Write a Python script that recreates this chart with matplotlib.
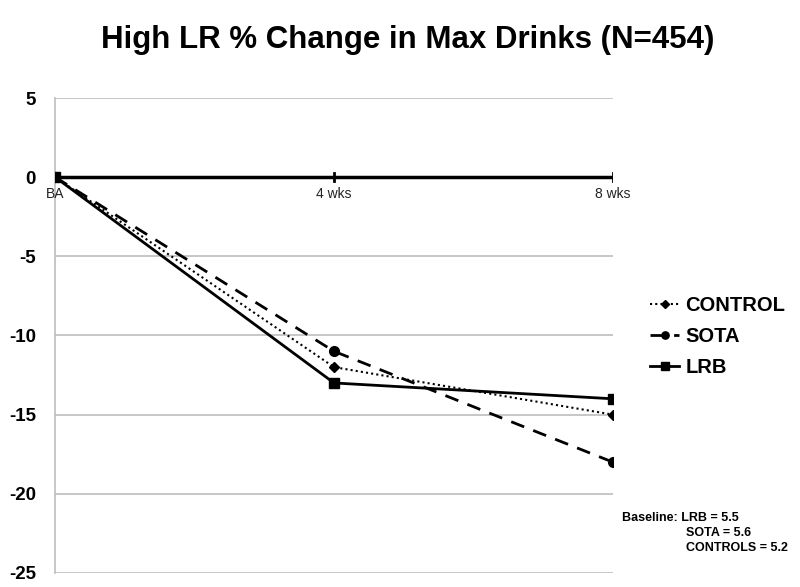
import matplotlib.pyplot as plt

plt.rcParams['font.family'] = ['Liberation Sans', 'DejaVu Sans']

# data
timepoints = ["BA", "4 wks", "8 wks"]
control = [0, -12, -15]
sota = [0, -11, -18]
lrb = [0, -13, -14]
yticks = [5, 0, -5, -10, -15, -20, -25]

fig = plt.figure(figsize=(8, 5.87), dpi=100)
ax = fig.add_axes([0.069, 0.024, 0.697, 0.809])

x = range(len(timepoints))

# gridlines
for y in yticks:
    if y != 0:
        ax.axhline(y, color="#bdbdbd", lw=1.2, zorder=0)
# zero axis line with category ticks
ax.axhline(0, color="black", lw=2.5, zorder=1)
for i in x:
    ax.plot([i, i], [-0.25, 0.25], color="black", lw=2, zorder=1)
    ax.text(i, -0.6, timepoints[i], ha="center", va="top", fontsize=10, color="#222222")

ax.plot(x, control, color="black", lw=1.5, ls=(0, (1, 1.5)), marker="D", ms=5, label="CONTROL", zorder=3)
ax.plot(x, sota, color="black", lw=2, ls=(0, (5, 3.5)), marker="o", ms=7, label="SOTA", zorder=3)
ax.plot(x, lrb, color="black", lw=2, ls="-", marker="s", ms=7, label="LRB", zorder=3)

ax.set_xlim(0, 2)
ax.set_ylim(-25, 5)
ax.set_yticks(yticks)
ax.set_yticklabels([str(v) for v in yticks], fontsize=13.5, fontweight="bold")
ax.set_xticks([])
ax.tick_params(axis="y", length=0, pad=14)

for s in ["top", "right", "bottom"]:
    ax.spines[s].set_visible(False)
ax.spines["left"].set_color("#bdbdbd")
ax.spines["left"].set_linewidth(1.2)

fig.suptitle("High LR % Change in Max Drinks (N=454)", x=0.51, y=0.958,
             fontsize=22.5, fontweight="bold")

leg = fig.legend(loc="upper left", bbox_to_anchor=(0.79, 0.527), frameon=False,
                 prop={"size": 14.5, "weight": "bold"}, handlelength=1.45,
                 handletextpad=0.3, labelspacing=0.6, markerscale=0.75)

fig.text(0.777, 0.113, "Baseline: LRB = 5.5", fontsize=9, fontweight="bold")
fig.text(0.858, 0.087, "SOTA = 5.6", fontsize=9, fontweight="bold")
fig.text(0.858, 0.061, "CONTROLS = 5.2", fontsize=9, fontweight="bold")

fig.savefig("out.png", dpi=100)
